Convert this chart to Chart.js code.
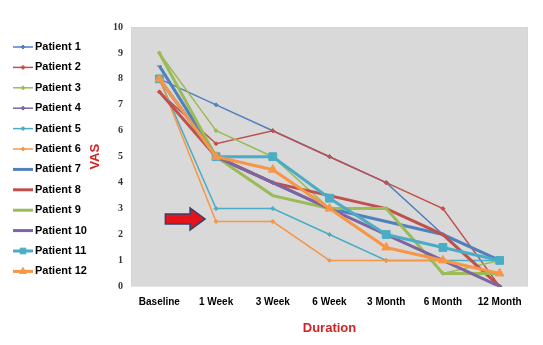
<!DOCTYPE html>
<html>
<head>
<meta charset="utf-8">
<script src="https://cdn.jsdelivr.net/npm/chart.js@4"></script>
<style>
html, body { margin: 0; padding: 0; background: #fff; }
#wrap { width: 543px; height: 345px; }
</style>
</head>
<body>
<div id="wrap"><canvas id="vasChart"></canvas></div>
<script>
// categories on the x axis
const durations = ['Baseline', '1 Week', '3 Week', '6 Week', '3 Month', '6 Month', '12 Month'];

// VAS scores
const patient1  = [8,   7,   6,   5,   4,   2,   0];
const patient2  = [7.5, 5.5, 6,   5,   4,   3,   0];
const patient3  = [9,   6,   5,   3,   3,   0.5, 1];
const patient4  = [8,   5,   4,   3,   2,   1,   0];
const patient5  = [8,   3,   3,   2,   1,   1,   1];
const patient6  = [8,   2.5, 2.5, 1,   1,   1,   0.5];
const patient7  = [8.5, 5,   4,   3,   2.5, 2,   1];
const patient8  = [7.5, 5,   4,   3.5, 3,   2,   0];
const patient9  = [9,   5,   3.5, 3,   3,   0.5, 0.5];
const patient10 = [8,   5,   4,   3,   2,   1,   0];
const patient11 = [8,   5,   5,   3.4, 2,   1.5, 1];
const patient12 = [8,   5,   4.5, 3,   1.5, 1,   0.5];

const patientNames = ['Patient 1', 'Patient 2', 'Patient 3', 'Patient 4', 'Patient 5', 'Patient 6',
    'Patient 7', 'Patient 8', 'Patient 9', 'Patient 10', 'Patient 11', 'Patient 12'];
const patientScores = [patient1, patient2, patient3, patient4, patient5, patient6,
    patient7, patient8, patient9, patient10, patient11, patient12];

const yMin = 0;
const yMax = 10;

// excel 2010 palette, repeats for patients 7-12 with thicker lines
const palette = ['#4F81BD', '#C0504D', '#9BBB59', '#8064A2', '#4BACC6', '#F79646'];
const markers = [
    ['rectRot', 2], ['rectRot', 2], ['rectRot', 2], ['rectRot', 2], ['rectRot', 2], ['rectRot', 2],
    ['line', 2.5], ['circle', 0], ['circle', 0], ['line', 2.5], ['rect', 5.5], ['triangle', 5]
];

const datasets = patientNames.map((name, i) => ({
    label: name,
    data: patientScores[i],
    borderColor: palette[i % 6],
    backgroundColor: palette[i % 6],
    borderWidth: i < 6 ? 1.5 : 3,
    pointStyle: markers[i][0],
    pointRadius: markers[i][1],
    pointBorderWidth: 1,
    tension: 0,
    order: 11 - i
}));

// grey plot area with thin border
const plotBg = {
    id: 'plotBg',
    beforeDraw(chart) {
        const { ctx, chartArea: a } = chart;
        ctx.save();
        ctx.fillStyle = '#d9d9d9';
        ctx.fillRect(a.left, a.top, a.width, a.height);
        ctx.strokeStyle = '#cdd7de';
        ctx.lineWidth = 1;
        ctx.strokeRect(a.left + 0.5, a.top + 0.5, a.width - 1, a.height - 1);
        ctx.restore();
    }
};

// the red arrow pointing at week 1
const arrowMark = {
    id: 'arrowMark',
    afterDatasetsDraw(chart) {
        const { ctx, scales: { x, y } } = chart;
        const x0 = x.getPixelForValue(0) + 6;
        const x1 = x.getPixelForValue(1) - 11;
        const cy = y.getPixelForValue(2.6);
        const shaft = 5, head = 11, headLen = 15;
        ctx.save();
        ctx.beginPath();
        ctx.moveTo(x0, cy - shaft);
        ctx.lineTo(x1 - headLen, cy - shaft);
        ctx.lineTo(x1 - headLen, cy - head);
        ctx.lineTo(x1, cy);
        ctx.lineTo(x1 - headLen, cy + head);
        ctx.lineTo(x1 - headLen, cy + shaft);
        ctx.lineTo(x0, cy + shaft);
        ctx.closePath();
        ctx.fillStyle = '#e3141b';
        ctx.fill();
        ctx.strokeStyle = '#34436f';
        ctx.lineWidth = 1.5;
        ctx.stroke();
        ctx.restore();
    }
};

// legend on the left, line sample with marker like excel
const sideLegend = {
    id: 'sideLegend',
    afterDraw(chart) {
        const ctx = chart.ctx;
        chart.data.datasets.forEach((ds, i) => {
            const yPos = 47 + i * 20.4;
            ctx.save();
            ctx.strokeStyle = ds.borderColor;
            ctx.fillStyle = ds.backgroundColor;
            ctx.lineWidth = ds.borderWidth;
            ctx.beginPath();
            ctx.moveTo(13, yPos);
            ctx.lineTo(33, yPos);
            ctx.stroke();
            if (ds.pointRadius > 0) {
                ctx.lineWidth = 1;
                Chart.helpers.drawPoint(ctx, {
                    pointStyle: ds.pointStyle,
                    radius: Math.min(ds.pointRadius, 4),
                    borderWidth: 1
                }, 23, yPos);
            }
            ctx.fillStyle = '#000';
            ctx.font = 'bold 11px "Liberation Sans", Arial, sans-serif';
            ctx.textBaseline = 'middle';
            ctx.fillText(ds.label, 35, yPos);
            ctx.restore();
        });
    }
};

new Chart(document.getElementById('vasChart'), {
    type: 'line',
    data: { labels: durations, datasets: datasets },
    options: {
        responsive: true,
        maintainAspectRatio: false,
        animation: false,
        layout: { padding: { left: 88, top: 27, right: 15, bottom: 9 } },
        plugins: {
            legend: { display: false },
            tooltip: { enabled: false }
        },
        scales: {
            x: {
                offset: true,
                grid: { display: false, drawTicks: false },
                border: { display: false },
                ticks: {
                    color: '#000',
                    padding: 10,
                    maxRotation: 0,
                    autoSkip: false,
                    font: { family: '"Liberation Sans", Arial, sans-serif', size: 10, weight: 'bold' }
                },
                title: {
                    display: true,
                    text: 'Duration',
                    color: '#d02424',
                    padding: { top: 2, bottom: 0 },
                    font: { family: '"Liberation Sans", Arial, sans-serif', size: 13, weight: 'bold' }
                }
            },
            y: {
                min: yMin,
                max: yMax,
                grid: { display: false, drawTicks: false },
                border: { display: false },
                ticks: {
                    stepSize: 1,
                    color: '#333',
                    padding: 8,
                    font: { family: '"Liberation Serif", serif', size: 10, weight: 'bold' }
                },
                title: {
                    display: true,
                    text: 'VAS',
                    color: '#d02424',
                    padding: 0,
                    font: { family: '"Liberation Sans", Arial, sans-serif', size: 13, weight: 'bold' }
                },
                afterFit(scale) { scale.width = 43; }
            }
        }
    },
    plugins: [plotBg, arrowMark, sideLegend]
});
</script>
</body>
</html>
